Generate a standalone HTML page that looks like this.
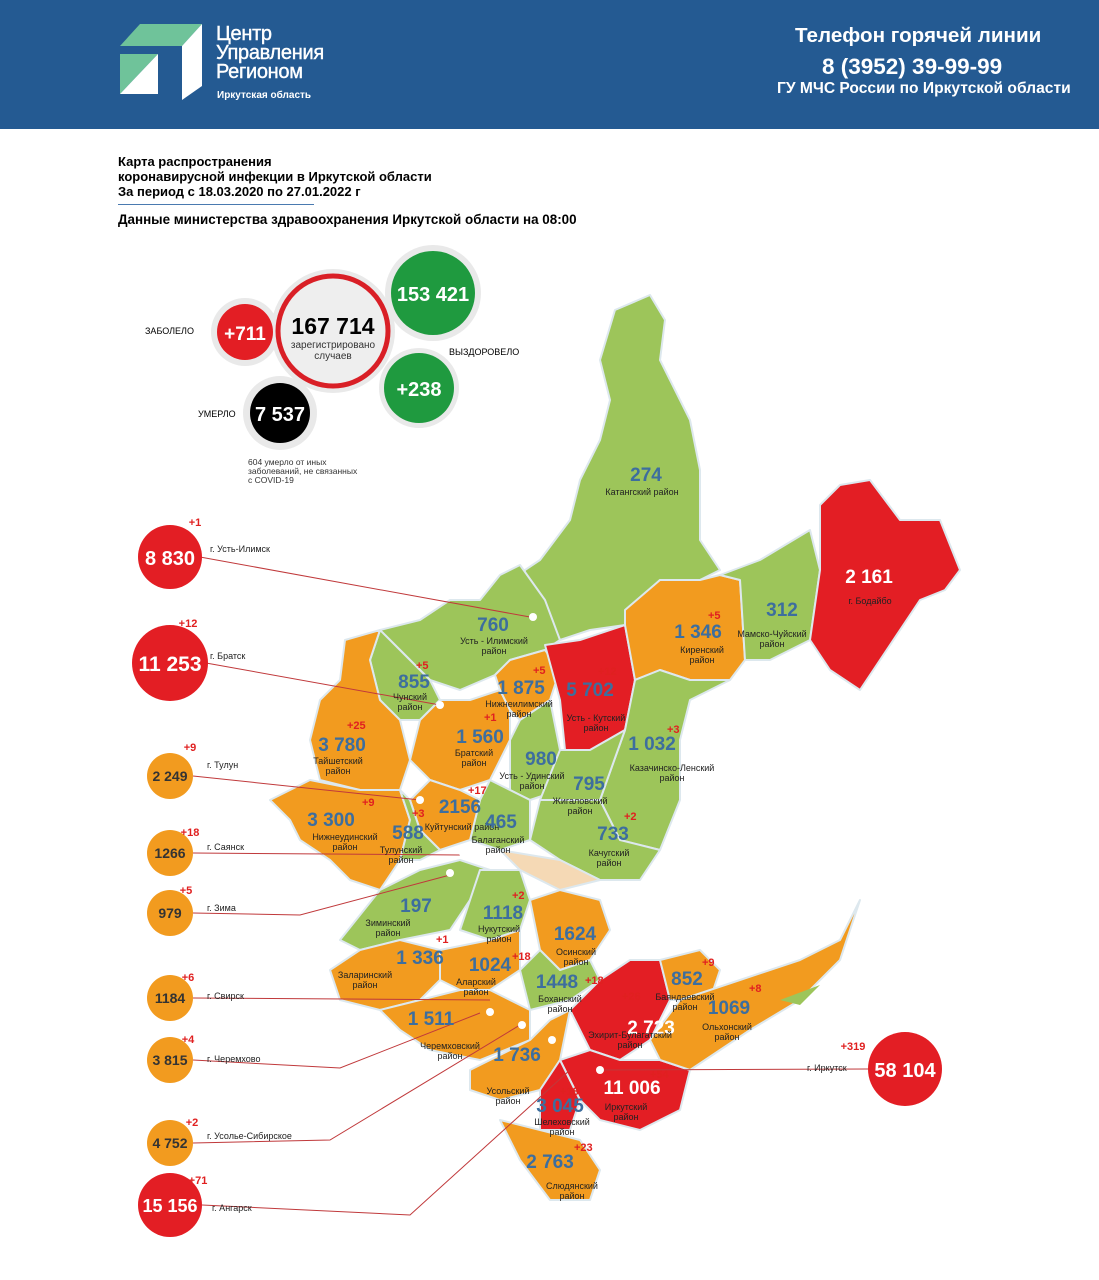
<!DOCTYPE html>
<html><head><meta charset="utf-8"><style>
body{margin:0;width:1099px;height:1280px;background:#fff;position:relative;overflow:hidden;font-family:"Liberation Sans",sans-serif}
.a{position:absolute;white-space:nowrap}
.n{position:absolute;font-weight:bold;color:#3d6e9e;font-size:19px;transform:translate(-50%,0)}
.s{position:absolute;font-size:9px;color:#222;text-align:center;transform:translate(-50%,0);line-height:10px}
.p{position:absolute;font-size:11px;color:#e02020;font-weight:bold}
</style></head><body>
<div class="a" style="left:0;top:0;width:1099px;height:129px;background:#245a92"></div>
<svg class="a" style="left:120px;top:24px" width="82" height="78"><polygon points="20,0 82,0 62,22 0,22" fill="#6fc39a"/><polygon points="0,30 38,30 0,70" fill="#6fc39a"/><polygon points="38,30 0,70 38,70" fill="#fff"/><polygon points="62,22 82,0 82,62 62,76" fill="#fff"/></svg>
<div class="a" style="left:216px;top:25px;color:#fff;font-size:20px;line-height:19px;letter-spacing:-0.3px;-webkit-text-stroke:0.4px #fff">Центр<br>Управления<br>Регионом</div>
<div class="a" style="left:217px;top:90px;color:#fff;font-size:10px;font-weight:bold">Иркутская область</div>
<div class="a" style="left:795px;top:24px;color:#fff;font-size:20.6px;font-weight:bold">Телефон горячей линии</div>
<div class="a" style="left:822px;top:54px;color:#fff;font-size:22.5px;font-weight:bold">8 (3952) 39-99-99</div>
<div class="a" style="left:777px;top:80px;color:#fff;font-size:15.6px;font-weight:bold">ГУ МЧС России по Иркутской области</div>
<div class="a" style="left:118px;top:154px;font-size:13px;font-weight:bold;line-height:15px">Карта распространения<br>коронавирусной инфекции в Иркутской области<br>За период с 18.03.2020 по 27.01.2022 г</div>
<div class="a" style="left:118px;top:204px;width:196px;border-top:1px solid #4a7ab0"></div>
<div class="a" style="left:118px;top:212px;font-size:13.4px;font-weight:bold">Данные министерства здравоохранения Иркутской области на 08:00</div>
<svg class="a" style="left:0;top:0" width="1099" height="1280">
<g fill="#e9e9e9"><circle cx="245" cy="332" r="34"/><circle cx="333" cy="331" r="62"/><circle cx="433" cy="293" r="48"/><circle cx="419" cy="388" r="40"/><circle cx="280" cy="413" r="37"/></g>
<circle cx="245" cy="332" r="28" fill="#e31e24"/><circle cx="333" cy="331" r="55" fill="#eee" stroke="#d91f26" stroke-width="5"/><circle cx="433" cy="293" r="42" fill="#1f9a3f"/><circle cx="419" cy="388" r="35" fill="#1f9a3f"/><circle cx="280" cy="413" r="30" fill="#000"/>
<g stroke="#dde8ee" stroke-width="2" stroke-linejoin="round">
<polygon fill="#9dc55a" points="615,310 650,295 665,320 660,360 690,420 700,470 700,540 720,570 700,580 660,580 640,600 625,625 590,630 560,640 545,610 520,600 525,570 540,560 570,520 580,480 600,440 610,400 600,360"/>
<polygon fill="#9dc55a" points="500,575 520,565 545,600 560,640 545,650 510,660 495,675 460,690 430,680 400,650 380,630 420,620 450,600 480,600"/>
<polygon fill="#9dc55a" points="380,630 400,650 430,680 440,700 420,720 400,720 380,700 370,660"/>
<polygon fill="#f29b1f" points="345,640 380,630 370,660 380,700 400,720 410,760 400,790 360,790 320,780 310,740 320,700 340,680"/>
<polygon fill="#f29b1f" points="270,800 310,780 360,790 400,790 410,820 400,860 380,890 350,880 330,860 300,840 290,820"/>
<polygon fill="#f29b1f" points="420,720 440,700 470,700 500,690 510,710 510,740 490,780 460,790 430,780 410,760"/>
<polygon fill="#f29b1f" points="495,675 510,660 545,650 560,670 550,700 520,720 510,710 500,690"/>
<polygon fill="#e31e24" points="545,645 580,640 625,625 635,680 625,730 590,750 565,750 560,700"/>
<polygon fill="#f29b1f" points="625,610 660,580 700,580 720,575 740,580 745,660 730,680 690,680 660,670 635,680 625,625"/>
<polygon fill="#9dc55a" points="720,575 760,560 810,530 820,570 810,640 770,660 745,660 740,580"/>
<polygon fill="#e31e24" points="820,505 840,485 870,480 900,520 940,520 960,570 945,590 920,600 900,630 880,660 860,690 830,670 810,640 820,570"/>
<polygon fill="#9dc55a" points="635,680 660,670 690,680 730,680 690,700 680,740 680,800 660,850 620,840 600,800 625,730"/>
<polygon fill="#9dc55a" points="510,740 520,720 550,700 560,750 560,790 530,800 510,790"/>
<polygon fill="#9dc55a" points="560,750 590,750 625,730 600,800 560,810 540,800"/>
<polygon fill="#9dc55a" points="540,800 600,800 620,840 660,850 640,880 600,880 560,860 530,840"/>
<polygon fill="#9dc55a" points="490,780 510,790 530,800 530,840 500,850 470,840 480,800"/>
<polygon fill="#f29b1f" points="430,780 460,790 480,800 470,840 440,850 420,830 410,800"/>
<polygon fill="#9dc55a" points="400,790 410,800 420,830 440,850 420,860 400,860 410,820"/>
<polygon fill="#f5d9b5" points="500,850 560,860 600,880 560,890 520,870"/>
<polygon fill="#9dc55a" points="340,940 380,890 420,870 460,860 490,870 470,900 450,930 400,940 360,950"/>
<polygon fill="#9dc55a" points="480,870 520,870 530,900 520,930 490,940 460,930 470,900"/>
<polygon fill="#f29b1f" points="440,950 490,940 520,930 520,970 490,990 460,990 440,980"/>
<polygon fill="#f29b1f" points="330,970 360,950 400,940 440,950 440,980 420,1000 380,1010 340,1000"/>
<polygon fill="#f29b1f" points="530,900 560,890 600,900 610,930 590,960 560,970 540,950"/>
<polygon fill="#9dc55a" points="520,970 540,950 560,970 590,960 600,980 570,1000 530,1010"/>
<polygon fill="#f29b1f" points="380,1010 420,1000 460,990 490,990 530,1010 530,1040 480,1060 430,1050 400,1030"/>
<polygon fill="#f29b1f" points="470,1070 530,1040 550,1020 570,1010 560,1060 540,1090 500,1100 470,1090"/>
<polygon fill="#e31e24" points="600,980 630,960 660,960 670,1000 650,1040 620,1060 590,1050 570,1010"/>
<polygon fill="#e31e24" points="560,1060 590,1050 620,1060 660,1060 690,1070 680,1110 640,1130 600,1120 580,1100"/>
<polygon fill="#e31e24" points="540,1090 560,1060 580,1100 570,1130 540,1130"/>
<polygon fill="#f29b1f" points="500,1120 540,1130 580,1140 600,1170 590,1200 550,1200 520,1160"/>
<polygon fill="#f29b1f" points="660,960 700,950 720,970 710,1000 670,1000"/>
<polygon fill="#f29b1f" points="680,1000 740,980 800,960 840,940 860,900 840,960 800,1000 750,1030 720,1050 690,1070 660,1060 650,1040"/>
</g>
<polygon fill="#9dc55a" points="780,1000 820,985 800,1005"/>
<g stroke="#c0393b" stroke-width="1" fill="none">
<polyline points="200,557 530,617"/><polyline points="206,663 440,705"/><polyline points="193,776 420,800"/><polyline points="193,853 460,855"/><polyline points="193,913 300,915 450,875"/><polyline points="193,998 490,1000"/><polyline points="193,1060 340,1068 480,1013"/><polyline points="193,1143 330,1140 520,1025"/><polyline points="202,1205 410,1215 570,1070"/><polyline points="868,1069 600,1070"/>
</g>
<g font-family="Liberation Sans" font-weight="bold" text-anchor="middle" fill="#fff">
<text x="245" y="340" font-size="19">+711</text>
<text x="333" y="334" font-size="23" fill="#000">167 714</text>
<text x="333" y="348" font-size="10" font-weight="normal" fill="#333">зарегистрировано</text>
<text x="333" y="359" font-size="10" font-weight="normal" fill="#333">случаев</text>
<text x="433" y="301" font-size="20">153 421</text><text x="419" y="396" font-size="20">+238</text><text x="280" y="421" font-size="20">7 537</text>
</g>
<g>
<circle cx="170" cy="557" r="32" fill="#e31e24"/><circle cx="170" cy="663" r="38" fill="#e31e24"/><circle cx="170" cy="776" r="23" fill="#f29b1f"/><circle cx="170" cy="853" r="23" fill="#f29b1f"/><circle cx="170" cy="913" r="23" fill="#f29b1f"/><circle cx="170" cy="998" r="23" fill="#f29b1f"/><circle cx="170" cy="1060" r="23" fill="#f29b1f"/><circle cx="170" cy="1143" r="23" fill="#f29b1f"/><circle cx="170" cy="1205" r="32" fill="#e31e24"/><circle cx="905" cy="1069" r="37" fill="#e31e24"/>
</g>
<g font-family="Liberation Sans" font-weight="bold" text-anchor="middle">
<text x="170" y="565" font-size="20" fill="#fff">8 830</text><text x="170" y="671" font-size="21" fill="#fff">11 253</text>
<text x="170" y="781" font-size="14" fill="#333">2 249</text><text x="170" y="858" font-size="14" fill="#333">1266</text><text x="170" y="918" font-size="14" fill="#333">979</text><text x="170" y="1003" font-size="14" fill="#333">1184</text><text x="170" y="1065" font-size="14" fill="#333">3 815</text><text x="170" y="1148" font-size="14" fill="#333">4 752</text>
<text x="170" y="1212" font-size="18" fill="#fff">15 156</text><text x="905" y="1077" font-size="20" fill="#fff">58 104</text>
<g fill="#e02020" font-size="11"><text x="195" y="526">+1</text><text x="188" y="627">+12</text><text x="190" y="751">+9</text><text x="190" y="836">+18</text><text x="186" y="894">+5</text><text x="188" y="981">+6</text><text x="188" y="1043">+4</text><text x="192" y="1126">+2</text><text x="198" y="1184">+71</text><text x="853" y="1050">+319</text></g>
<g font-size="9" font-weight="normal" fill="#222" text-anchor="start"><text x="210" y="552">г. Усть-Илимск</text><text x="210" y="659">г. Братск</text><text x="207" y="768">г. Тулун</text><text x="207" y="850">г. Саянск</text><text x="207" y="911">г. Зима</text><text x="207" y="999">г. Свирск</text><text x="207" y="1062">г. Черемхово</text><text x="207" y="1139">г. Усолье-Сибирское</text><text x="212" y="1211">г. Ангарск</text><text x="807" y="1071">г. Иркутск</text></g>
</g>
<g fill="#fff"><circle cx="533" cy="617" r="4"/><circle cx="440" cy="705" r="4"/><circle cx="420" cy="800" r="4"/><circle cx="463" cy="853" r="4"/><circle cx="450" cy="873" r="4"/><circle cx="490" cy="1012" r="4"/><circle cx="518" cy="993" r="4"/><circle cx="522" cy="1025" r="4"/><circle cx="552" cy="1040" r="4"/><circle cx="600" cy="1070" r="4"/></g>
</svg>
<div class="a" style="left:145px;top:326px;font-size:9px">ЗАБОЛЕЛО</div>
<div class="a" style="left:449px;top:347px;font-size:9px">ВЫЗДОРОВЕЛО</div>
<div class="a" style="left:198px;top:409px;font-size:9px">УМЕРЛО</div>
<div class="a" style="left:248px;top:458px;font-size:8.5px;line-height:9px;color:#333">604 умерло от иных<br>заболеваний, не связанных<br>с COVID-19</div>
<div class="n" style="left:646px;top:465px">274</div><div class="s" style="left:642px;top:487px">Катангский район</div>
<div class="n" style="left:869px;top:567px;color:#fff">2 161</div><div class="s" style="left:870px;top:596px">г. Бодайбо</div>
<div class="n" style="left:782px;top:600px">312</div><div class="s" style="left:772px;top:629px">Мамско-Чуйский<br>район</div>
<div class="n" style="left:698px;top:622px">1 346</div><div class="s" style="left:702px;top:645px">Киренский<br>район</div><div class="p" style="left:708px;top:610px">+5</div>
<div class="n" style="left:493px;top:615px">760</div><div class="s" style="left:494px;top:636px">Усть - Илимский<br>район</div>
<div class="n" style="left:414px;top:672px">855</div><div class="s" style="left:410px;top:692px">Чунский<br>район</div><div class="p" style="left:416px;top:660px">+5</div>
<div class="n" style="left:521px;top:678px">1 875</div><div class="s" style="left:519px;top:699px">Нижнеилимский<br>район</div><div class="p" style="left:533px;top:665px">+5</div>
<div class="n" style="left:590px;top:680px">5 702</div><div class="s" style="left:596px;top:713px">Усть - Кутский<br>район</div><div class="p" style="left:598px;top:666px">+12</div>
<div class="n" style="left:480px;top:727px">1 560</div><div class="s" style="left:474px;top:748px">Братский<br>район</div><div class="p" style="left:484px;top:712px">+1</div>
<div class="n" style="left:342px;top:735px">3 780</div><div class="s" style="left:338px;top:756px">Тайшетский<br>район</div><div class="p" style="left:347px;top:720px">+25</div>
<div class="n" style="left:541px;top:749px">980</div><div class="s" style="left:532px;top:771px">Усть - Удинский<br>район</div>
<div class="n" style="left:652px;top:734px">1 032</div><div class="s" style="left:672px;top:763px">Казачинско-Ленский<br>район</div><div class="p" style="left:667px;top:724px">+3</div>
<div class="n" style="left:589px;top:774px">795</div><div class="s" style="left:580px;top:796px">Жигаловский<br>район</div>
<div class="n" style="left:460px;top:797px">2156</div><div class="s" style="left:462px;top:822px">Куйтунский район</div><div class="p" style="left:468px;top:785px">+17</div>
<div class="n" style="left:331px;top:810px">3 300</div><div class="s" style="left:345px;top:832px">Нижнеудинский<br>район</div><div class="p" style="left:362px;top:797px">+9</div>
<div class="n" style="left:613px;top:824px">733</div><div class="s" style="left:609px;top:848px">Качугский<br>район</div><div class="p" style="left:624px;top:811px">+2</div>
<div class="n" style="left:501px;top:812px">465</div><div class="s" style="left:498px;top:835px">Балаганский<br>район</div>
<div class="n" style="left:408px;top:823px">588</div><div class="s" style="left:401px;top:845px">Тулунский<br>район</div><div class="p" style="left:412px;top:808px">+3</div>
<div class="n" style="left:416px;top:896px">197</div><div class="s" style="left:388px;top:918px">Зиминский<br>район</div>
<div class="n" style="left:503px;top:903px">1118</div><div class="s" style="left:499px;top:924px">Нукутский<br>район</div><div class="p" style="left:512px;top:890px">+2</div>
<div class="n" style="left:575px;top:924px">1624</div><div class="s" style="left:576px;top:947px">Осинский<br>район</div>
<div class="n" style="left:420px;top:948px">1 336</div><div class="s" style="left:365px;top:970px">Заларинский<br>район</div><div class="p" style="left:436px;top:934px">+1</div>
<div class="n" style="left:490px;top:955px">1024</div><div class="s" style="left:476px;top:977px">Аларский<br>район</div><div class="p" style="left:512px;top:951px">+18</div>
<div class="n" style="left:557px;top:972px">1448</div><div class="s" style="left:560px;top:994px">Боханский<br>район</div><div class="p" style="left:585px;top:975px">+18</div>
<div class="n" style="left:687px;top:969px">852</div><div class="s" style="left:685px;top:992px">Баяндаевский<br>район</div><div class="p" style="left:702px;top:957px">+9</div>
<div class="n" style="left:651px;top:1018px;color:#fff">2 723</div><div class="s" style="left:630px;top:1030px">Эхирит-Булагатский<br>район</div><div class="p" style="left:622px;top:991px">+26</div>
<div class="n" style="left:729px;top:998px">1069</div><div class="s" style="left:727px;top:1022px">Ольхонский<br>район</div><div class="p" style="left:749px;top:983px">+8</div>
<div class="n" style="left:431px;top:1009px">1 511</div><div class="s" style="left:450px;top:1041px">Черемховский<br>район</div>
<div class="n" style="left:517px;top:1045px">1 736</div><div class="s" style="left:508px;top:1086px">Усольский<br>район</div>
<div class="n" style="left:632px;top:1078px;color:#fff">11 006</div><div class="s" style="left:626px;top:1102px">Иркутский<br>район</div><div class="p" style="left:650px;top:1069px">+54</div>
<div class="n" style="left:560px;top:1096px">3 045</div><div class="s" style="left:562px;top:1117px">Шелеховский<br>район</div><div class="p" style="left:560px;top:1086px">+18</div>
<div class="n" style="left:550px;top:1152px">2 763</div><div class="s" style="left:572px;top:1181px">Слюдянский<br>район</div><div class="p" style="left:574px;top:1142px">+23</div>
</body></html>
